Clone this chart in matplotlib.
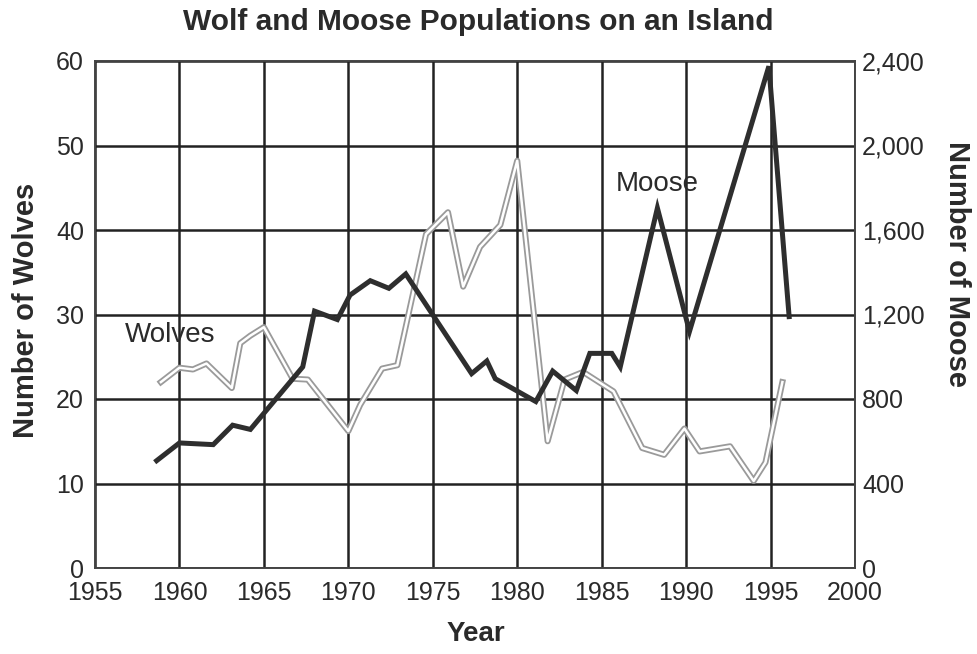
import matplotlib
matplotlib.use("Agg")
import matplotlib.pyplot as plt
from matplotlib.ticker import StrMethodFormatter

plt.rcParams['font.family'] = ['Liberation Sans', 'DejaVu Sans']

# valeurs (annee, valeur)
wolf_years = [1958.9, 1960.0, 1960.8, 1961.6, 1963.1, 1963.6, 1964.2, 1965.0,
              1966.7, 1967.6, 1970.0, 1970.7, 1972.0, 1972.9, 1974.6, 1975.9,
              1976.8, 1977.8, 1979.0, 1980.0, 1981.8, 1982.8, 1983.9, 1985.7,
              1987.4, 1988.7, 1989.9, 1990.8, 1992.6, 1994.0, 1994.7, 1995.7]
wolves = [22.0, 23.7, 23.5, 24.2, 21.3, 26.6, 27.5, 28.5,
          22.4, 22.3, 16.2, 19.3, 23.6, 24.0, 39.5, 42.1,
          33.3, 38.0, 40.6, 48.2, 15.0, 22.3, 23.2, 20.9,
          14.2, 13.4, 16.5, 13.8, 14.4, 10.3, 12.5, 22.0]

moose_years = [1958.65, 1960.0, 1962.0, 1963.15, 1964.2, 1967.3, 1968.0, 1969.35,
               1970.1, 1971.3, 1972.4, 1973.4, 1977.3, 1978.2, 1978.7, 1981.1,
               1982.1, 1983.5, 1984.3, 1985.6, 1986.1, 1988.3, 1990.2, 1994.9,
               1996.1]
moose = [508, 592, 584, 676, 656, 952, 1216, 1176,
         1292, 1360, 1324, 1392, 920, 980, 896, 788,
         932, 840, 1016, 1016, 952, 1704, 1120, 2375,
         1190]

year_ticks = list(range(1955, 2001, 5))
wolf_ticks = list(range(0, 61, 10))
moose_ticks = list(range(0, 2401, 400))

text_col = '#2a2a2a'
grid_col = '#222222'

fig = plt.figure(figsize=(9.77, 6.54), dpi=100)
ax = fig.add_axes([95/977, 1-568/654, 760/977, 507/654])
ax2 = ax.twinx()

# grille
ax.set_xlim(1955, 2000)
ax.set_ylim(0, 60)
ax2.set_ylim(0, 2400)
ax.set_xticks(year_ticks)
ax.set_yticks(wolf_ticks)
ax2.set_yticks(moose_ticks)
ax2.yaxis.set_major_formatter(StrMethodFormatter('{x:,.0f}'))
ax.grid(True, color=grid_col, linewidth=1.8)
ax.set_axisbelow(True)

for a in (ax, ax2):
    for s in a.spines.values():
        s.set_color('#444444')
        s.set_linewidth(1.2)
ax.tick_params(axis='both', length=0, labelsize=18, labelcolor=text_col)
ax.tick_params(axis='x', pad=9)
ax.tick_params(axis='y', pad=8)
ax2.tick_params(axis='y', length=0, labelsize=18, labelcolor=text_col, pad=5)

# loups: ligne double (contour gris, centre blanc)
ax.plot(wolf_years, wolves, color='#9a9a9a', linewidth=4.4, solid_joinstyle='round')
ax.plot(wolf_years, wolves, color='white', linewidth=1.8, solid_joinstyle='round')
# orignaux
ax2.plot(moose_years, moose, color='#2e2e2e', linewidth=3.6, solid_joinstyle='miter')

ax.text(1959.45, 27.6, 'Wolves', fontsize=20, color=text_col, ha='center', va='center')
ax2.text(1988.3, 1820, 'Moose', fontsize=20, color=text_col, ha='center', va='center')

ax.set_xlabel('Year', fontsize=20, fontweight='bold', color=text_col)
ax.xaxis.set_label_coords(0.501, -0.105)
ax.set_ylabel('Number of Wolves', fontsize=21, fontweight='bold', color=text_col, va='center')
ax.yaxis.set_label_coords(-0.091, 0.509)
ax2.set_ylabel('Number of Moose', fontsize=21, fontweight='bold', color=text_col,
               rotation=270, va='center')
ax2.yaxis.set_label_coords(1.134, 0.600)

fig.text(0.489, 0.966, 'Wolf and Moose Populations on an Island', fontsize=21.5,
         fontweight='bold', color=text_col, ha='center', va='center')

fig.savefig('out.png', dpi=100, facecolor='white')
